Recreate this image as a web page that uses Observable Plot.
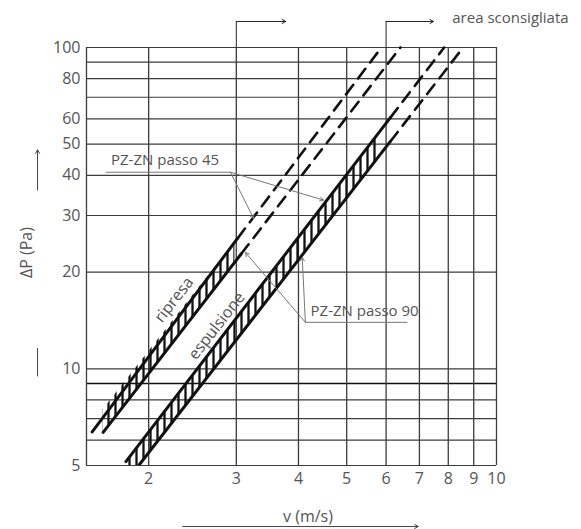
<!DOCTYPE html>
<html><head><meta charset="utf-8">
<script src="https://cdn.jsdelivr.net/npm/d3@7"></script>
<script src="https://cdn.jsdelivr.net/npm/@observablehq/plot@0.6"></script>
<style>body{margin:0;background:#fff;}</style>
</head><body><div id="chart"></div>
<script>
// ---- axes ----
const xTicks = [2, 3, 4, 5, 6, 7, 8, 9, 10];
const yTicks = [5, 10, 20, 30, 40, 50, 60, 80, 100];
const xGrid = [1.5, 2, 3, 4, 5, 6, 7, 8, 9, 10];
const yGrid = [5, 6, 7, 8, 9, 10, 20, 30, 40, 50, 60, 70, 80, 90, 100];

// ---- curves (v in m/s, ΔP in Pa): start, end of solid part, end of dashed part ----
const curveNames = ["ripresa passo 45", "ripresa passo 90", "espulsione passo 45", "espulsione passo 90"];
const vStart     = [1.54, 1.62, 1.80, 1.91];
const dpStart    = [6.36, 6.34, 5.14, 5.0];
const vSolidEnd  = [3.02, 3.07, 6.12, 6.12];
const dpSolidEnd = [25.5, 22.8, 60.5, 51.0];
const vEnd       = [5.87, 6.41, 7.85, 8.57];
const dpEnd      = [100, 100, 100, 100];

// ---- hatched bands between passo 45 (high) and passo 90 (low) ----
const bandNames = ["ripresa", "ripresa", "espulsione", "espulsione", "espulsione"];
const bandV     = [1.62, 2.98, 1.82, 1.91, 5.80];
const bandLow   = [6.34, 21.5, 5.0, 5.0, 45.8];
const bandHigh  = [7.45, 24.8, 5.26, 5.79, 54.3];

// ---- band labels ----
const bandLabels = ["ripresa", "espulsione"];
const bandLabelV = [2.25, 2.74];
const bandLabelDp = [16.4, 13.6];

// ---- callouts ----
const calloutText = ["PZ-ZN passo 45", "PZ-ZN passo 90"];
const calloutV = [1.68, 4.23];
const calloutDp = [44.6, 15.1];
const underlineV1 = [1.64, 4.13];
const underlineV2 = [2.92, 6.62];
const underlineDp = [40.9, 13.95];
const leaderFromV  = [2.92, 2.92, 4.13, 4.13];
const leaderFromDp = [40.9, 40.9, 13.95, 13.95];
const leaderToV    = [3.25, 4.49, 4.07, 3.13];
const leaderToDp   = [29.4, 33.5, 22.2, 23.0];

// ---- "area sconsigliata" markers ----
const warnV = [3, 6];
const warnArrowEndV = [3.77, 7.47];
const warnDp = 120.5;
const warnText = "area sconsigliata";
const warnTextV = 8.15, warnTextDp = 123;

// ---- axis titles ----
const xTitle = "v (m/s)", xTitleV = 4.18, xTitleDp = 3.47;
const xArrowV = [2.34, 6.96], xArrowDp = 3.23;
const yTitle = "ΔP (Pa)", yTitleV = 1.14, yTitleDp = 23.0;
const yArrowV = 1.196, yArrowDp = [36.0, 48.0], yStubDp = [9.47, 11.6];

// build tables
const solidRows = [], dashRows = [];
curveNames.forEach((n, i) => {
  solidRows.push({name: n, v: vStart[i], dp: dpStart[i]}, {name: n, v: vSolidEnd[i], dp: dpSolidEnd[i]});
  dashRows.push({name: n, v: vSolidEnd[i], dp: dpSolidEnd[i]}, {name: n, v: vEnd[i], dp: dpEnd[i]});
});
const bandRows = bandNames.map((b, i) => ({band: b, v: bandV[i], lo: bandLow[i], hi: bandHigh[i]}));
const labelRows = bandLabels.map((t, i) => ({t, v: bandLabelV[i], dp: bandLabelDp[i]}));
const calloutRows = calloutText.map((t, i) => ({t, v: calloutV[i], dp: calloutDp[i]}));
const underlineRows = calloutText.map((t, i) => ({x1: underlineV1[i], x2: underlineV2[i], y: underlineDp[i]}));
const leaderRows = leaderFromV.map((v, i) => ({x1: v, y1: leaderFromDp[i], x2: leaderToV[i], y2: leaderToDp[i]}));
const warnRows = warnV.map((v, i) => ({v, x2: warnArrowEndV[i]}));

const font = "'Open Sans', sans-serif";
const ink = "#555";

const svg = Plot.plot({
  width: 581, height: 529,
  marginLeft: 86, marginRight: 85, marginTop: 47, marginBottom: 64,
  style: {fontFamily: font, fontSize: "16px", color: ink, background: "#fff"},
  x: {type: "log", domain: [1.5, 10], axis: null},
  y: {type: "log", domain: [5, 100], axis: null},
  marks: [
    Plot.ruleY(yGrid, {stroke: d => d === 9 ? "#111" : "#3c3c3c", strokeWidth: d => d === 9 ? 1.3 : 1.2}),
    Plot.ruleX(xGrid, {stroke: "#3c3c3c", strokeWidth: 1.3}),
    // tick labels
    Plot.text(yTicks, {x: 1.5, y: d => d, text: d => String(d), textAnchor: "end", dx: -6, fontSize: 16, fill: ink, fontFamily: font}),
    Plot.text(xTicks, {x: d => d, y: 5, text: d => String(d), lineAnchor: "top", dy: 7, fontSize: 16, fill: ink, fontFamily: font}),
    Plot.areaY(bandRows, {x: "v", y1: "lo", y2: "hi", z: "band", fill: "url(#hatch)", clip: true}),
    Plot.line(solidRows, {x: "v", y: "dp", z: "name", stroke: "#111", strokeWidth: 3, clip: true}),
    Plot.line(dashRows, {x: "v", y: "dp", z: "name", stroke: "#111", strokeWidth: 2.6, strokeDasharray: "12,8"}),
    Plot.text(labelRows, {x: "v", y: "dp", text: "t", rotate: -52, fontSize: 16, fill: ink, fontFamily: font}),
    Plot.link(underlineRows, {x1: "x1", x2: "x2", y1: "y", y2: "y", stroke: "#777", strokeWidth: 1}),
    Plot.arrow(leaderRows, {x1: "x1", y1: "y1", x2: "x2", y2: "y2", stroke: "#777", strokeWidth: 1, headLength: 6}),
    Plot.text(calloutRows, {x: "v", y: "dp", text: "t", textAnchor: "start", fontSize: 15, fill: ink, fontFamily: font}),
    Plot.link(warnRows, {x1: "v", x2: "v", y1: 100, y2: warnDp, stroke: "#222", strokeWidth: 1}),
    Plot.arrow(warnRows, {x1: "v", x2: "x2", y1: warnDp, y2: warnDp, stroke: "#222", strokeWidth: 1, headLength: 6}),
    Plot.text([warnText], {x: warnTextV, y: warnTextDp, text: d => d, textAnchor: "start", fontSize: 15, fill: ink, fontFamily: font}),
    Plot.text([xTitle], {x: xTitleV, y: xTitleDp, text: d => d, fontSize: 16, fill: ink, fontFamily: font}),
    Plot.arrow([xTitle], {x1: xArrowV[0], x2: xArrowV[1], y1: xArrowDp, y2: xArrowDp, stroke: "#444", strokeWidth: 1, headLength: 6}),
    Plot.text([yTitle], {x: yTitleV, y: yTitleDp, text: d => d, rotate: -90, fontSize: 16, fill: ink, fontFamily: font}),
    Plot.arrow([yTitle], {x1: yArrowV, x2: yArrowV, y1: yArrowDp[0], y2: yArrowDp[1], stroke: "#444", strokeWidth: 1, headLength: 6}),
    Plot.link([yTitle], {x1: yArrowV, x2: yArrowV, y1: yStubDp[0], y2: yStubDp[1], stroke: "#444", strokeWidth: 1})
  ]
});

const defs = d3.select(svg).insert("defs", ":first-child");
const pat = defs.append("pattern").attr("id", "hatch").attr("patternUnits", "userSpaceOnUse")
  .attr("width", 7).attr("height", 10);
pat.append("line").attr("x1", 3.5).attr("x2", 3.5).attr("y1", 0).attr("y2", 10)
  .attr("stroke", "#111").attr("stroke-width", 2.3);

document.getElementById("chart").appendChild(svg);
</script>
</body></html>
